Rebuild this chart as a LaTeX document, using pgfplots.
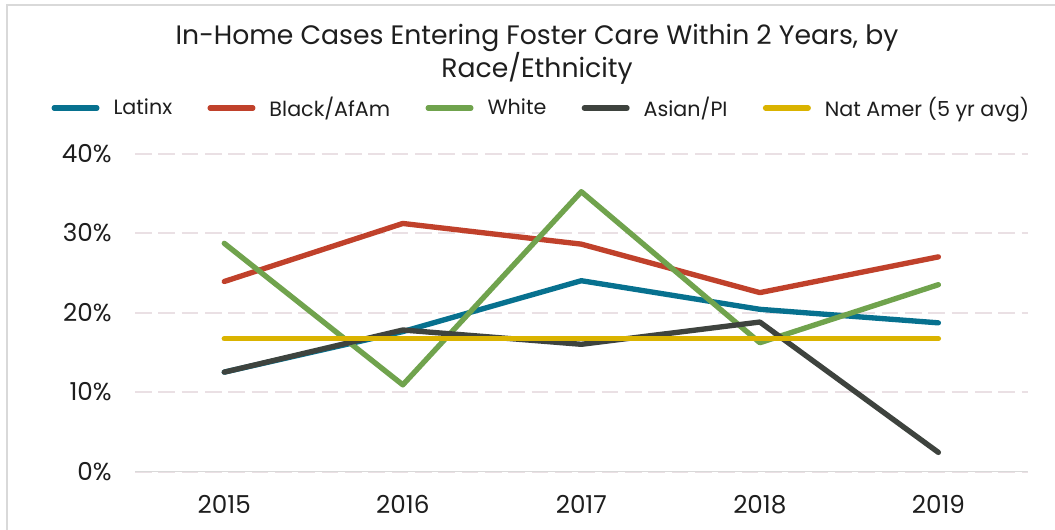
\documentclass[border=0pt]{standalone}
\usepackage{fontspec}
\setmainfont{Poppins}
\usepackage{pgfplots}
\pgfplotsset{compat=1.18}
\definecolor{cLat}{HTML}{07718F}
\definecolor{cBlk}{HTML}{C0412B}
\definecolor{cWht}{HTML}{70A34D}
\definecolor{cAsn}{HTML}{3E433E}
\definecolor{cNat}{HTML}{DAB300}
\definecolor{gridc}{HTML}{EAE0E4}
\definecolor{framec}{HTML}{D9D9D9}
\definecolor{txt}{HTML}{1E1E1E}
\begin{document}
\begin{tikzpicture}
\useasboundingbox (0,0) rectangle (791.25pt,396.75pt);
\fill[white] (0,0) rectangle (791.25pt,396.75pt);
\draw[framec, line width=1.5pt] (5.25pt,-2pt) -- (5.25pt,393pt) -- (795pt,393pt);
\node[align=center, text=txt, font=\fontsize{20}{23.5}\selectfont] at (402.75pt,356pt)
  {In-Home Cases Entering Foster Care Within 2 Years, by\\Race/Ethnicity};
\begin{axis}[
  at={(101.25pt,43.125pt)}, anchor=south west,
  scale only axis, width=669.5pt, height=238.5pt,
  xmin=-0.5, xmax=4.5, ymin=0, ymax=40,
  xtick={0,1,2,3,4}, xticklabels={2015,2016,2017,2018,2019},
  ytick={0,10,20,30,40},
  yticklabel={\pgfmathprintnumber{\tick}\%},
  /pgf/number format/assume math mode=true,
  axis line style={draw=none},
  major tick length=0pt,
  ymajorgrids,
  grid style={gridc, line width=1.5pt, dash pattern=on 12.5pt off 5pt},
  ticklabel style={text=txt, font=\fontsize{18.5}{20}\selectfont},
  yticklabel style={xshift=-14pt},
  xticklabel style={yshift=-14pt},
  legend columns=5,
  legend cell align=left,
  legend style={at={(0.4542,1.143)}, anchor=center, draw=none, fill=none,
    font=\fontsize{15.5}{17}\selectfont, text=txt,
    inner xsep=0pt,
    nodes={inner xsep=0pt, inner ysep=2pt},
    /tikz/every odd column/.append style={column sep=10.5pt},
    /tikz/every even column/.append style={column sep=26.5pt}},
  legend image code/.code={\draw[#1, line width=4pt, line cap=round] (0pt,0pt) -- (32pt,0pt);},
  every axis plot/.append style={line width=4pt, line cap=round, line join=round},
]
\addplot[cLat] coordinates {(0,12.5)(1,17.6)(2,24.0)(3,20.4)(4,18.7)};
\addlegendentry{Latinx}
\addplot[cBlk] coordinates {(0,23.9)(1,31.2)(2,28.6)(3,22.5)(4,27.0)};
\addlegendentry{Black/AfAm}
\addplot[cWht] coordinates {(0,28.7)(1,10.9)(2,35.2)(3,16.2)(4,23.5)};
\addlegendentry{White}
\addplot[cAsn] coordinates {(0,12.5)(1,17.8)(2,16.0)(3,18.8)(4,2.4)};
\addlegendentry{Asian/PI}
\addplot[cNat] coordinates {(0,16.7)(1,16.7)(2,16.7)(3,16.7)(4,16.7)};
\addlegendentry{Nat Amer (5 yr avg)}
\draw[framec, line width=1.5pt, line cap=butt] (axis cs:-0.5,0) -- (axis cs:4.5,0);
\end{axis}
\end{tikzpicture}
\end{document}
